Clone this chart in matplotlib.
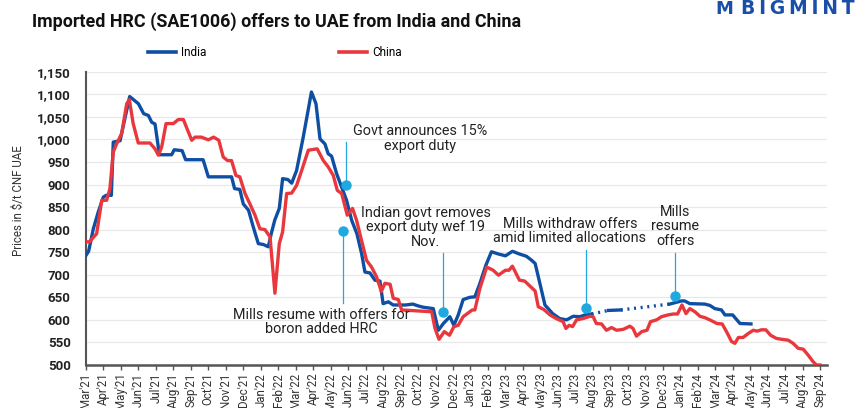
import matplotlib
matplotlib.use("Agg")
import matplotlib.pyplot as plt
from matplotlib.lines import Line2D

# ---------------- data (x = months since Mar'21) ----------------
month_labels = ["Mar'21", "Apr'21", "May'21", "Jun'21", "Jul'21", "Aug'21", "Sep'21", "Oct'21",
                "Nov'21", "Dec'21", "Jan'22", "Feb'22", "Mar'22", "Apr'22", "May'22", "Jun'22",
                "Jul'22", "Aug'22", "Sep'22", "Oct'22", "Nov'22", "Dec'22", "Jan'23", "Feb'23",
                "Mar'23", "Apr'23", "May'23", "Jun'23", "Jul'23", "Aug'23", "Sep'23", "Oct'23",
                "Nov'23", "Dec'23", "Jan'24", "Feb'24", "Mar'24", "Apr'24", "May'24", "Jun'24",
                "Jul'24", "Aug'24", "Sep'24"]

india_t = [0.0, 0.15, 0.42, 0.7, 0.99, 1.15, 1.45, 1.56, 1.95, 2.14, 2.5, 3.0, 3.3, 3.57, 3.76,
           3.95, 4.2, 4.9, 5.05, 5.5, 5.7, 6.7, 7.0, 8.33, 8.5, 8.8, 9.0, 9.3, 9.57, 9.86, 10.15,
           10.43, 10.6, 10.8, 11.06, 11.25, 11.55, 11.77, 12.05, 12.43, 12.9, 13.16, 13.39, 13.67,
           13.86, 14.05, 14.34, 14.63, 14.91, 15.2, 15.5, 15.77, 15.96, 16.25, 16.53, 16.82, 17.0,
           17.3, 17.58, 18.3, 18.7, 19.0, 19.3, 19.87, 20.16, 20.45, 20.82, 21.05, 21.3, 21.58,
           21.96, 22.25, 22.54, 22.88, 23.2, 23.6, 24.0, 24.4, 24.8, 25.2, 25.5, 25.7, 25.97,
           26.26, 26.7, 27.1, 27.5, 27.88, 28.26, 28.55, 28.93]
india_v = [743, 752, 802, 839, 872, 876, 876, 994, 997, 1031, 1095, 1079, 1057, 1053, 1038,
           1034, 966, 966, 977, 975, 955, 955, 917, 917, 891, 889, 857, 843, 806, 769, 767,
           762, 791, 821, 847, 913, 911, 903, 931, 1005, 1105, 1079, 1001, 990,
           968, 963, 924, 894, 865, 821, 791, 747, 706, 704, 688, 686, 636,
           640, 633, 633, 635, 631, 628, 625, 577, 592, 607, 588, 611, 645,
           650, 651, 681, 721, 751, 746, 742, 752, 746, 741, 732, 725, 681,
           633, 614, 603, 600, 608, 607, 611, 613]

# period without India offers (bridged in the reference by a dotted line)
india_gap_t = [28.93, 29.9, 30.6, 33.4]
india_gap_v = [613, 621, 622, 635]

india2_t = [33.4, 34.07, 34.25, 34.55, 35.4, 35.7, 35.98, 36.36, 36.56, 37.0, 37.42, 38.05]
india2_v = [635, 642, 642, 636, 635, 632, 625, 622, 611, 611, 592, 591]

china_t = [0.0, 0.2, 0.61, 0.9, 1.18, 1.37, 1.56, 1.75, 2.04, 2.33, 2.48, 2.7, 2.99, 3.66, 3.95,
           4.14, 4.33, 4.58, 5.0, 5.28, 5.57, 6.05, 6.24, 6.6, 7.0, 7.3, 7.6, 7.85, 8.1, 8.33,
           8.58, 8.8, 9.1, 9.38, 9.67, 9.95, 10.24, 10.53, 10.81, 11.06, 11.25, 11.48, 11.77,
           12.05, 12.34, 12.72, 13.23, 13.58, 13.86, 14.15, 14.38, 14.63, 14.95, 15.25, 15.48,
           15.77, 16.05, 16.34, 16.63, 16.9, 17.1, 17.4, 17.58, 17.87, 18.06, 19.78, 19.97, 20.2,
           20.5, 20.8, 21.05, 21.3, 21.58, 22.1, 22.25, 22.54, 22.93, 23.3, 23.6, 24.0, 24.2,
           24.4, 24.8, 25.1, 25.4, 25.7, 25.88, 26.2, 26.55, 26.9, 27.3, 27.46, 27.65, 27.84,
           28.07, 28.45, 28.83, 29.02, 29.2, 29.5, 29.78, 30.07, 30.36, 30.74, 31.12, 31.3, 31.5,
           31.8, 32.1, 32.3, 32.65, 32.93, 33.3, 33.6, 33.85, 34.1, 34.33, 34.55, 34.84, 35.13,
           35.4, 35.7, 36.1, 36.4, 36.65, 36.94, 37.13, 37.33, 37.6, 37.9, 38.18, 38.4, 38.65,
           38.9, 39.17, 39.5, 39.8, 40.18, 40.46, 40.75, 41.04, 41.32, 41.61, 41.8, 42.0]
china_v = [773, 773, 791, 865, 865, 891, 972, 990, 1013, 1079, 1088, 1035, 992, 992, 979,
           965, 983, 1035, 1035, 1044, 1044, 998, 1005, 1005, 999, 1005, 998, 961, 953, 953,
           920, 917, 880, 857, 832, 802, 800, 784, 659, 769, 795, 880, 881,
           898, 931, 976, 979, 953, 939, 920, 887, 880, 832, 847, 821,
           776, 732, 717, 695, 663, 681, 679, 648, 645, 622, 618, 581, 557,
           574, 566, 585, 588, 607, 622, 622, 670, 717, 710, 699, 710, 710,
           719, 688, 686, 675, 664, 629, 623, 611, 603, 596, 581, 588, 585,
           600, 603, 608, 607, 592, 591, 577, 583, 577, 579, 586, 581, 564,
           574, 577, 596, 600, 607, 611, 613, 613, 633, 614, 625, 618, 608,
           605, 600, 592, 591, 574, 552, 548, 561, 561, 570, 577, 575, 578,
           578, 566, 559, 557, 555, 548, 537, 535, 522, 507, 500, 500]

# annotations
ann_text = ["Govt announces 15%\nexport duty",
            "Mills resume with offers for\nboron added HRC",
            "Indian govt removes\nexport duty wef 19\nNov.",
            "Mills withdraw offers\namid limited allocations",
            "Mills\nresume\noffers"]
ann_month = [14.86, 14.72, 20.4, 28.59, 33.73]
ann_dot = [900, 798, 618, 627, 653]
ann_line_end = [994, 637, 748, 754, 748]
ann_text_x = [19.1, 13.44, 19.45, 27.69, 33.73]
ann_text_y = [1002, 595, 805, 797, 807]

y_ticks = list(range(500, 1151, 50))

# ---------------- style ----------------
BLUE = "#0f4fa3"
RED = "#e8383d"
ANN = "#1fa9df"
plt.rcParams['font.family'] = ['Roboto', 'DejaVu Sans']

fig = plt.figure(figsize=(8.65, 4.08), dpi=100)
ax = fig.add_axes([86 / 865, 1 - 365 / 408, (827 - 86) / 865, (365 - 71.7) / 408])

lw = 2.4
ax.plot(india_t, india_v, color=BLUE, lw=lw, solid_joinstyle='round', label="India", zorder=3)
ax.plot(india_gap_t[:2], india_gap_v[:2], color=BLUE, lw=lw, ls=(0, (0.6, 1.4)), zorder=3)
ax.plot(india_gap_t[1:3], india_gap_v[1:3], color=BLUE, lw=lw, zorder=3)
ax.plot(india_gap_t[2:], india_gap_v[2:], color=BLUE, lw=lw, ls=(0, (0.6, 1.4)), zorder=3)
ax.plot(india2_t, india2_v, color=BLUE, lw=lw, solid_joinstyle='round', zorder=3)
ax.plot(china_t, china_v, color=RED, lw=lw, solid_joinstyle='round', label="China", zorder=4)

for txt, m, dv, le, tx, ty in zip(ann_text, ann_month, ann_dot, ann_line_end,
                                  ann_text_x, ann_text_y):
    ax.plot([m, m], [dv, le], color=ANN, lw=0.9, zorder=5)
    ax.plot([m], [dv], 'o', color=ANN, ms=6.5, zorder=6)
    ax.text(tx, ty, txt, ha='center', va='center', fontsize=10.4, color='#222222',
            linespacing=1.05, zorder=7)

ax.set_ylim(500, 1150)
ax.set_xlim(0, 42.4)
ax.set_yticks(y_ticks)
ax.set_yticklabels([f"{v:,}" for v in y_ticks], fontsize=9.5, fontweight='bold', color='#222222')
ax.set_xticks(range(len(month_labels)))
ax.set_xticklabels(month_labels, rotation=90, fontsize=8.3, color='#333333')
ax.tick_params(axis='y', length=0, pad=11)
ax.tick_params(axis='x', length=3.5, width=1, color='#555555', pad=2)
ax.grid(axis='y', color='#e8e8e8', lw=0.9)
ax.set_axisbelow(True)
for s in ['top', 'right']:
    ax.spines[s].set_visible(False)
ax.spines['left'].set_color('#555555')
ax.spines['bottom'].set_color('#555555')
ax.spines['left'].set_linewidth(1.5)
ax.spines['bottom'].set_linewidth(1.8)

fig.text(18 / 865, 1 - 201 / 408, "Prices in $/t CNF UAE", rotation=90, fontsize=8.3,
         color='#333333', ha='center', va='center')

fig.text(32 / 865, 1 - 22 / 408, "Imported HRC (SAE1006) offers to UAE from India and China",
         fontsize=12.9, fontweight='bold', color='#111111', ha='left', va='center')

handles = [Line2D([], [], color=BLUE, lw=2.6), Line2D([], [], color=RED, lw=2.6)]
fig.legend(handles, ["India", "China"], loc='center left',
           bbox_to_anchor=(137 / 865, 1 - 53 / 408), ncol=2, frameon=False, fontsize=8.5,
           handlelength=2.4, handletextpad=0.45, columnspacing=11.2)

fig.text(798 / 865, 1 - 9 / 408, "B\u2009I\u2009G\u2009M\u2009I\u2009N\u2009T", fontsize=13.5,
         fontweight='bold', color='#1a4fa8', ha='center', va='center', family='DejaVu Sans')
fig.text(724 / 865, 1 - 9 / 408, "M", fontsize=13, fontweight='bold', color='#1a4fa8',
         ha='center', va='center', family='DejaVu Sans')

fig.savefig("out.png", dpi=100)
